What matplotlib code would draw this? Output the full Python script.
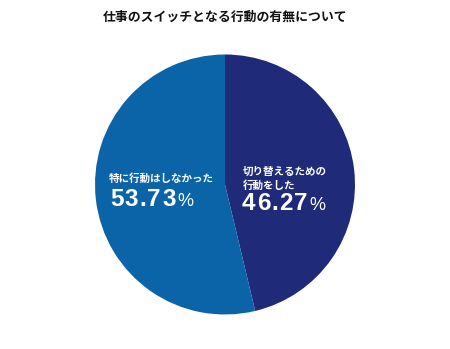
import matplotlib
matplotlib.use("Agg")
import matplotlib.pyplot as plt

title = "仕事のスイッチとなる行動の有無について"
labels = ["切り替えるための\n行動をした", "特に行動はしなかった"]
values = [46.27, 53.73]
colors = ["#1f2a78", "#0b64a8"]

W, H = 450, 349
fig = plt.figure(figsize=(W / 100, H / 100), dpi=100)
ax = fig.add_axes([0, 0, 1, 1])

cx, cy, r = 225, H - 184.5, 130
ax.pie(values, colors=colors, startangle=90, counterclock=False,
       center=(cx, cy), radius=r, frame=True,
       wedgeprops=dict(linewidth=0))
ax.set_xlim(0, W)
ax.set_ylim(0, H)
ax.set_aspect("equal")
ax.axis("off")

jp = ["Noto Sans CJK JP", "DejaVu Sans"]
num_font = ["Liberation Sans", "DejaVu Sans"]

fig.text(0.5, 1 - 17 / H, title, ha="center", va="center",
         fontsize=9.25, fontweight="bold", family=jp, color="#111111")

renderer = fig.canvas.get_renderer()


def tracked_text(x, y, s, track, **kw):
    """Draw a string one character at a time with extra spacing (px)."""
    for ch in s:
        t = ax.text(x, y, ch, ha="left", va="baseline", **kw)
        bb = t.get_window_extent(renderer=renderer)
        x += bb.width + track
    return x - track


def pct_label(x, y_base, value):
    x_end = tracked_text(x, y_base, f"{value:.2f}", 1.2, fontsize=17.5,
                         fontweight="bold", family=num_font, color="white")
    ax.text(x_end + 1.5, y_base, "%", ha="left", va="baseline",
            fontsize=13, family=num_font, color="white")


# right wedge label
right_lines = labels[0].split("\n")
ax.text(243, H - 172, right_lines[0], ha="left", va="center",
        fontsize=7.6, fontweight="bold", family=jp, color="white")
ax.text(243, H - 186, right_lines[1], ha="left", va="center",
        fontsize=7.6, fontweight="bold", family=jp, color="white")
pct_label(242, H - 210.5, values[0])

# left wedge label
ax.text(109, H - 179, labels[1], ha="left", va="center",
        fontsize=7.6, fontweight="bold", family=jp, color="white")
pct_label(110, H - 205.5, values[1])

fig.savefig("out.png", dpi=100, facecolor="white")
